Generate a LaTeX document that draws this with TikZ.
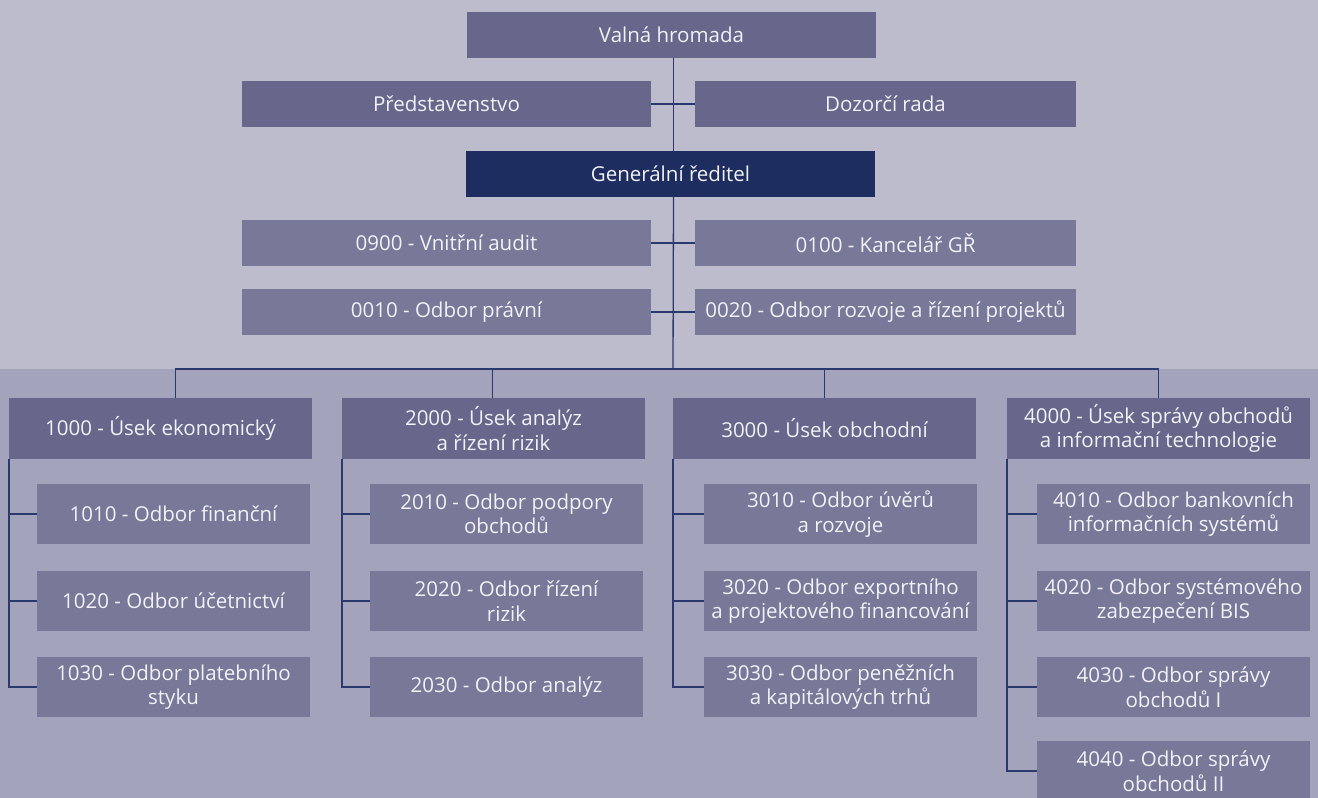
\documentclass[tikz,border=0pt]{standalone}
\usepackage{fontspec}
\setmainfont{Open Sans}

\definecolor{bgtop}{RGB}{189,188,205}
\definecolor{bglow}{RGB}{163,163,188}
\definecolor{boxdark}{RGB}{102,103,139}
\definecolor{boxlight}{RGB}{120,120,153}
\definecolor{navy}{RGB}{29,45,95}
\definecolor{linkcol}{RGB}{42,58,110}
\definecolor{txt}{RGB}{242,242,246}

\tikzset{every picture/.style={line width=1.2pt}}
\tikzset{
  unit/.style={anchor=north west, inner sep=0pt, outer sep=0pt, align=center,
               text=txt, font=\fontsize{20.5}{24.5}\selectfont},
  topbox/.style={unit, fill=boxdark, minimum width=409pt, minimum height=46pt},
  gmbox/.style={unit, fill=navy, minimum width=409pt, minimum height=46pt},
  staffbox/.style={unit, fill=boxlight, minimum height=46pt},
  secbox/.style={unit, fill=boxdark, minimum width=303pt, minimum height=61pt},
  deptbox/.style={unit, fill=boxlight, minimum width=273pt, minimum height=60pt},
  link/.style={draw=linkcol, line width=1.3pt}
}

\begin{document}
\begin{tikzpicture}[x=1pt, y=1pt, yscale=-1, xscale=1]

    \useasboundingbox (0,0) rectangle (1318,798);
    \fill [bgtop] (0,0) rectangle (1318,369);
    \fill [bglow] (0,369) rectangle (1318,798);

    % top of the company
    \node [topbox] (valna) at (467, 12) {Valná hromada};
    \node [topbox] (predst) at (242, 81) {Představenstvo};
    \node [topbox, minimum width=381pt] (dozor) at (695, 81) {Dozorčí rada};
    \node [gmbox] (gr) at (466,151) {Generální ředitel};

    % staff units
    \node [staffbox, minimum width=409pt] (audit) at (242,220) {0900 - Vnitřní audit};
    \node [staffbox, minimum width=381pt] (kancelar) at (695,220) {0100 - Kancelář GŘ};
    \node [staffbox, minimum width=409pt] (pravni) at (242,289) {0010 - Odbor právní};
    \node [staffbox, minimum width=381pt] (rozvoj) at (695,289) {0020 - Odbor rozvoje a řízení projektů};

    % sections
    \node [secbox] (s1000) at (   9,398) {1000 - Úsek ekonomický};
    \node [secbox] (s2000) at ( 342,398) {2000 - Úsek analýz\\a řízení rizik};
    \node [secbox] (s3000) at ( 673,398) {3000 - Úsek obchodní};
    \node [secbox] (s4000) at (1007,398) {4000 - Úsek správy obchodů\\a informační technologie};

    % departments
    \node [deptbox] (d1010) at (  37,484) {1010 - Odbor finanční};
    \node [deptbox] (d1020) at (  37,571) {1020 - Odbor účetnictví};
    \node [deptbox] (d1030) at (  37,657) {1030 - Odbor platebního\\styku};

    \node [deptbox] (d2010) at ( 370,484) {2010 - Odbor podpory\\obchodů};
    \node [deptbox] (d2020) at ( 370,571) {2020 - Odbor řízení\\rizik};
    \node [deptbox] (d2030) at ( 370,657) {2030 - Odbor analýz};

    \node [deptbox] (d3010) at ( 704,484) {3010 - Odbor úvěrů\\a rozvoje};
    \node [deptbox] (d3020) at ( 704,571) {3020 - Odbor exportního\\a projektového financování};
    \node [deptbox] (d3030) at ( 704,657) {3030 - Odbor peněžních\\a kapitálových trhů};

    \node [deptbox] (d4010) at (1037,484) {4010 - Odbor bankovních\\informačních systémů};
    \node [deptbox] (d4020) at (1037,571) {4020 - Odbor systémového\\zabezpečení BIS};
    \node [deptbox] (d4030) at (1037,657) {4030 - Odbor správy\\obchodů I};
    \node [deptbox] (d4040) at (1037,741) {4040 - Odbor správy\\obchodů II};

    % main line
    \coordinate (bus) at (673,369);
    \draw [link] ([xshift=2pt]valna.south) -- ([xshift=2pt]valna.south |- gr.north);
    \draw [link] ([xshift=2pt]valna.south |- gr.south) -- (bus);
    \draw [link] (predst.east) -- (dozor.west);
    \draw [link] (audit.east) -- (kancelar.west);
    \draw [link] (pravni.east) -- (rozvoj.west);

    % bus to sections
    \draw [link] ([xshift=15pt]s1000.north) |- (bus) -| ([xshift=-1pt]s2000.north);
    \draw [link] (bus) -| (s3000.north);
    \draw [link] (bus) -| (s4000.north);

    % sections to departments
    \draw [link] (s1000.south west) |- (d1030.west);
    \draw [link] (d1010.west) -- (d1010.west -| s1000.south west);
    \draw [link] (d1020.west) -- (d1020.west -| s1000.south west);

    \draw [link] (s2000.south west) |- (d2030.west);
    \draw [link] (d2010.west) -- (d2010.west -| s2000.south west);
    \draw [link] (d2020.west) -- (d2020.west -| s2000.south west);

    \draw [link] (s3000.south west) |- (d3030.west);
    \draw [link] (d3010.west) -- (d3010.west -| s3000.south west);
    \draw [link] (d3020.west) -- (d3020.west -| s3000.south west);

    \draw [link] (s4000.south west) |- (d4040.west);
    \draw [link] (d4010.west) -- (d4010.west -| s4000.south west);
    \draw [link] (d4020.west) -- (d4020.west -| s4000.south west);
    \draw [link] (d4030.west) -- (d4030.west -| s4000.south west);

  \end{tikzpicture}
\end{document}
